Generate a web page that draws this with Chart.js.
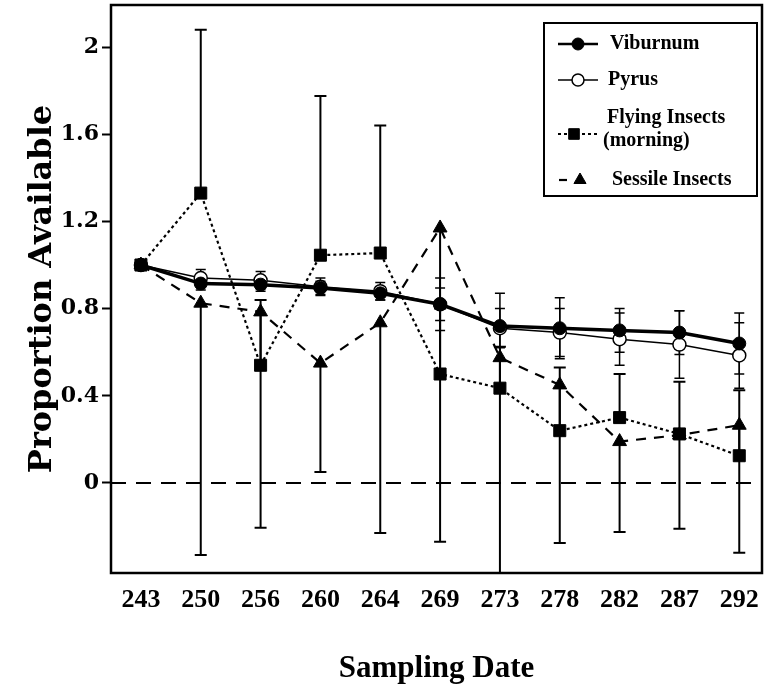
<!DOCTYPE html>
<html>
<head>
<meta charset="utf-8">
<script src="https://cdn.jsdelivr.net/npm/chart.js@4.4.0/dist/chart.umd.min.js"></script>
<style>
  html, body { margin: 0; padding: 0; background: #fff; }
</style>
</head>
<body>
<canvas id="chart" width="764" height="696"></canvas>
<script>
// ---- data ----
const dates = ["243", "250", "256", "260", "264", "269", "273", "278", "282", "287", "292"];

const viburnum    = [1.0, 0.915, 0.91, 0.895, 0.87, 0.82, 0.72, 0.71, 0.70, 0.69, 0.64];
const viburnumErr = [0, 0.03, 0.03, 0.03, 0.03, 0.12, 0.15, 0.14, 0.10, 0.10, 0.14];

const pyrus    = [1.0, 0.94, 0.93, 0.90, 0.88, 0.82, 0.71, 0.69, 0.66, 0.635, 0.585];
const pyrusErr = [0, 0.04, 0.04, 0.04, 0.04, 0.075, 0.09, 0.11, 0.12, 0.155, 0.15];

// flying insects: only the upper half of each bar is drawn
const flying      = [1.0, 1.33, 0.54, 1.045, 1.055, 0.50, 0.435, 0.24, 0.30, 0.225, 0.125];
const flyingErrUp = [0, 0.75, 0.30, 0.73, 0.585, 0.30, 0.19, 0.29, 0.20, 0.24, 0.30];

// sessile insects: only the lower half of each bar is drawn
const sessile        = [1.0, 0.825, 0.785, 0.55, 0.735, 1.17, 0.575, 0.45, 0.19, 0.22, 0.265];
const sessileErrDown = [0, 1.155, 0.99, 0.50, 0.965, 1.44, 1.0, 0.725, 0.415, 0.43, 0.585];

const yTicks      = [0, 0.4, 0.8, 1.2, 1.6, 2];
const yTickLabels = ["0", "0.4", "0.8", "1.2", "1.6", "2"];

const seriesNames = ["Viburnum", "Pyrus", ["Flying Insects", "(morning)"], "Sessile Insects"];

const SERIF = "'Liberation Serif', 'Times New Roman', serif";
const WIDE_SERIF = "'DejaVu Serif', serif";

const pts = arr => arr.map((v, i) => ({ x: i, y: v }));

/* ----------------------------------------------------------
   DATASETS (index 0 is drawn on top)
---------------------------------------------------------- */
const datasets = [
  {
    label: "Viburnum", data: pts(viburnum),
    borderColor: "#000", borderWidth: 3.5,
    pointStyle: "circle", pointRadius: 6.5,
    pointBackgroundColor: "#000", pointBorderColor: "#000", pointBorderWidth: 1
  },
  {
    label: "Pyrus", data: pts(pyrus),
    borderColor: "#000", borderWidth: 1.5,
    pointStyle: "circle", pointRadius: 6.5,
    pointBackgroundColor: "#fff", pointBorderColor: "#000", pointBorderWidth: 1.5
  },
  {
    label: "Flying Insects (morning)", data: pts(flying),
    borderColor: "#000", borderWidth: 2.2, borderDash: [3, 3],
    pointStyle: "rect", pointRadius: 8.5,
    pointBackgroundColor: "#000", pointBorderColor: "#000", pointBorderWidth: 1
  },
  {
    label: "Sessile Insects", data: pts(sessile),
    borderColor: "#000", borderWidth: 2.2, borderDash: [10, 8],
    pointStyle: "triangle", pointRadius: 8,
    pointBackgroundColor: "#000", pointBorderColor: "#000", pointBorderWidth: 1
  }
];

const errorSets = [
  { values: viburnum, up: viburnumErr, down: viburnumErr, width: 1.5, cap: 5 },
  { values: pyrus, up: pyrusErr, down: pyrusErr, width: 1.5, cap: 5 },
  { values: flying, up: flyingErrUp, down: flying.map(() => 0), width: 2, cap: 6 },
  { values: sessile, up: sessile.map(() => 0), down: sessileErrDown, width: 2, cap: 6 }
];

/* ----------------------------------------------------------
   PLUGINS: zero line, error bars, frame, legend box
---------------------------------------------------------- */
const underlay = {
  id: "underlay",
  beforeDatasetsDraw(chart) {
    const { ctx, chartArea: a, scales: { x, y } } = chart;
    ctx.save();
    ctx.beginPath();
    ctx.rect(a.left, a.top, a.right - a.left, a.bottom - a.top);
    ctx.clip();
    ctx.strokeStyle = "#000";

    // dashed zero line
    const y0 = y.getPixelForValue(0);
    ctx.lineWidth = 2;
    ctx.setLineDash([15, 10]);
    ctx.beginPath();
    ctx.moveTo(a.left, y0);
    ctx.lineTo(a.right, y0);
    ctx.stroke();
    ctx.setLineDash([]);

    // error bars
    errorSets.forEach(s => {
      ctx.lineWidth = s.width;
      s.values.forEach((v, i) => {
        if (!s.up[i] && !s.down[i]) return;
        const px = x.getPixelForValue(i);
        const hi = y.getPixelForValue(v + s.up[i]);
        const lo = y.getPixelForValue(v - s.down[i]);
        ctx.beginPath();
        ctx.moveTo(px, hi);
        ctx.lineTo(px, lo);
        if (s.up[i]) { ctx.moveTo(px - s.cap, hi); ctx.lineTo(px + s.cap, hi); }
        if (s.down[i]) { ctx.moveTo(px - s.cap, lo); ctx.lineTo(px + s.cap, lo); }
        ctx.stroke();
      });
    });
    ctx.restore();
  },
  afterDraw(chart) {
    const { ctx, chartArea: a } = chart;
    ctx.save();
    ctx.strokeStyle = "#000";
    ctx.lineWidth = 2.5;
    ctx.strokeRect(a.left, a.top, a.right - a.left, a.bottom - a.top);
    ctx.restore();
  }
};

const legendBox = {
  id: "legendBox",
  afterDraw(chart) {
    const { ctx } = chart;
    const box = { left: 544, top: 23, right: 757, bottom: 196 };
    const rows = [
      { y: 44, textY: [44], sample: [558, 598], marker: 578 },
      { y: 80, textY: [80], sample: [558, 598], marker: 578 },
      { y: 134, textY: [118, 141], sample: [558, 598], marker: 574 },
      { y: 180, textY: [180], sample: [559, 567], marker: 580 }
    ];
    const textX = [610, 608, 607, 612];

    ctx.save();
    ctx.fillStyle = "#fff";
    ctx.fillRect(box.left, box.top, box.right - box.left, box.bottom - box.top);
    ctx.strokeStyle = "#000";
    ctx.lineWidth = 2;
    ctx.strokeRect(box.left, box.top, box.right - box.left, box.bottom - box.top);

    rows.forEach((r, i) => {
      const ds = datasets[i];
      ctx.strokeStyle = "#000";
      ctx.lineWidth = Math.min(ds.borderWidth, 2.5);
      ctx.setLineDash(ds.borderDash || []);
      ctx.beginPath();
      ctx.moveTo(r.sample[0], r.y);
      ctx.lineTo(r.sample[1], r.y);
      ctx.stroke();
      ctx.setLineDash([]);

      ctx.fillStyle = ds.pointBackgroundColor;
      ctx.strokeStyle = ds.pointBorderColor;
      ctx.lineWidth = ds.pointBorderWidth;
      Chart.helpers.drawPoint(ctx, {
        pointStyle: ds.pointStyle,
        radius: ds.pointStyle === "triangle" ? 7 : (ds.pointStyle === "rect" ? 7.5 : 6),
        rotation: 0,
        borderWidth: ds.pointBorderWidth
      }, r.marker, r.y);

      ctx.fillStyle = "#000";
      ctx.font = "bold 20px " + SERIF;
      ctx.textAlign = "left";
      ctx.textBaseline = "middle";
      const lines = Array.isArray(seriesNames[i]) ? seriesNames[i] : [seriesNames[i]];
      lines.forEach((t, k) => ctx.fillText(t, textX[i] - (k ? 4 : 0), r.textY[k]));
    });
    ctx.restore();
  }
};

// keep the plot box where the figure has it: no auto label padding
const noPad = s => { s.paddingTop = 0; s.paddingBottom = 0; s.paddingLeft = 0; s.paddingRight = 0; };

/* ----------------------------------------------------------
   CHART
---------------------------------------------------------- */
new Chart(document.getElementById("chart"), {
  type: "line",
  data: { datasets },
  options: {
    responsive: false,
    devicePixelRatio: 1,
    animation: false,
    layout: { autoPadding: false, padding: { top: 5, right: 2, left: 0, bottom: 0 } },
    elements: { line: { tension: 0, fill: false } },
    plugins: { legend: { display: false }, tooltip: { enabled: false } },
    scales: {
      x: {
        type: "linear",
        min: -0.5,
        max: 10.38,
        afterBuildTicks: s => { s.ticks = dates.map((d, i) => ({ value: i })); },
        afterFit: s => { s.height = 123; noPad(s); },
        border: { display: false },
        grid: { display: false, drawTicks: false },
        ticks: {
          color: "#000",
          font: { family: SERIF, size: 26, weight: "bold" },
          padding: 12,
          maxRotation: 0,
          autoSkip: false,
          callback: (v, i) => dates[i]
        },
        title: {
          display: true,
          text: "Sampling Date",
          color: "#000",
          font: { family: SERIF, size: 31, weight: "bold" },
          padding: { top: 0, bottom: 8 }
        }
      },
      y: {
        min: -0.413,
        max: 2.193,
        afterBuildTicks: s => { s.ticks = yTicks.map(v => ({ value: v })); },
        afterFit: s => { s.width = 111; noPad(s); },
        border: { display: false },
        grid: { drawOnChartArea: false, drawTicks: true, tickLength: 9, tickWidth: 2, tickColor: "#000" },
        ticks: {
          color: "#000",
          font: { family: WIDE_SERIF, size: 22, weight: "bold" },
          padding: 3,
          callback: (v, i) => yTickLabels[i]
        },
        title: {
          display: true,
          text: "Proportion Available",
          color: "#000",
          font: { family: WIDE_SERIF, size: 32, weight: "bold" },
          padding: { top: 23, bottom: 0 }
        }
      }
    }
  },
  plugins: [underlay, legendBox]
});
</script>
</body>
</html>
